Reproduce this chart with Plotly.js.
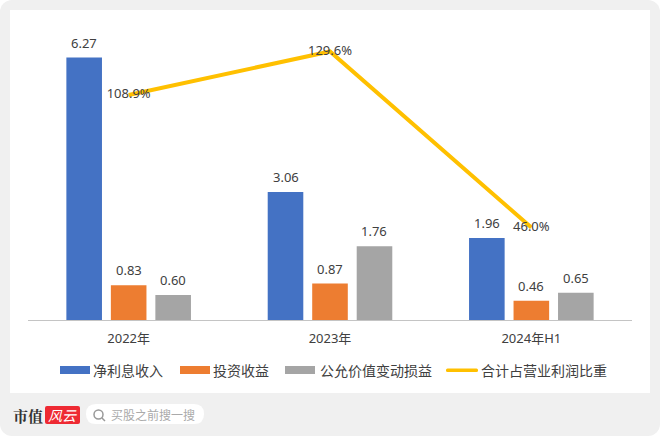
<!DOCTYPE html>
<html>
<head>
<meta charset="utf-8">
<script src="https://cdn.plot.ly/plotly-3.0.1.min.js"></script>
<style>
  html, body { margin: 0; padding: 0; background: #fff; }
  #frame { position: absolute; left: 0; top: 0; width: 660px; height: 436px; background: #f0f0f0; border-radius: 12px; }
  #chart { position: absolute; left: 0; top: 0; width: 660px; height: 436px; }
</style>
</head>
<body>
<div id="frame"></div>
<div id="chart"></div>
<script>
/* global Plotly */
const categories = ['2022年', '2023年', '2024年H1'];
const netInterest = [6.27, 3.06, 1.96];
const investIncome = [0.83, 0.87, 0.46];
const fairValue = [0.60, 1.76, 0.65];
const shareOfProfit = [108.9, 129.6, 46.0];
const seriesNames = ['净利息收入', '投资收益', '公允价值变动损益', '合计占营业利润比重'];
const seriesColors = ['#4472c4', '#ed7d31', '#a5a5a5', '#ffc000'];

const FONT = '"Noto Sans", "Noto Sans CJK SC", sans-serif';
const CJK = '"Noto Sans CJK SC", sans-serif';
const TEXT = '#404040';

// Plot box in pixels, everything decorative is placed from these
const L = 28, R = 632, T = 27, B = 320;
const px = x => (x - L) / (R - L);
const py = y => (B - y) / (B - T);

function bar(name, vals, color) {
  return { type: 'bar', name, x: categories, y: vals, marker: { color }, hoverinfo: 'skip' };
}

// Bar labels sit higher than textposition outside would put them
function barLabels(vals, offset) {
  return vals.map((v, i) => ({
    x: i + offset, y: v, xref: 'x', yref: 'y', text: v.toFixed(2), showarrow: false,
    yshift: 15, font: { family: FONT, size: 13, color: TEXT }
  }));
}

function rect(x0, y0, x1, y1, fill, r) {
  if (!r) {
    return { type: 'rect', xref: 'paper', yref: 'paper', x0: px(x0), x1: px(x1), y0: py(y0), y1: py(y1),
      fillcolor: fill, line: { width: 0 }, layer: 'below' };
  }
  // rounded rectangle, written in pixel space then converted
  const p = (x, y) => `${px(x)},${py(y)}`;
  const c = (cx, cy, x, y) => `Q${p(cx, cy)} ${p(x, y)}`;
  const path = `M${p(x0 + r, y0)}L${p(x1 - r, y0)}${c(x1, y0, x1, y0 + r)}L${p(x1, y1 - r)}${c(x1, y1, x1 - r, y1)}` +
    `L${p(x0 + r, y1)}${c(x0, y1, x0, y1 - r)}L${p(x0, y0 + r)}${c(x0, y0, x0 + r, y0)}Z`;
  return { type: 'path', xref: 'paper', yref: 'paper', path, fillcolor: fill, line: { width: 0 }, layer: 'below' };
}

function label(x, y, text, size, color, family) {
  return { xref: 'paper', yref: 'paper', x: px(x), y: py(y), text, showarrow: false,
    xanchor: 'left', yanchor: 'middle', align: 'left', borderpad: 0, borderwidth: 0,
    font: { family: family || CJK, size, color } };
}

const data = [
  bar(seriesNames[0], netInterest, seriesColors[0]),
  bar(seriesNames[1], investIncome, seriesColors[1]),
  bar(seriesNames[2], fairValue, seriesColors[2]),
  {
    type: 'scatter', mode: 'lines+text', name: seriesNames[3], x: categories, y: shareOfProfit, yaxis: 'y2',
    line: { color: seriesColors[3], width: 4 },
    text: shareOfProfit.map(v => v.toFixed(1) + '%'), textposition: 'middle center',
    textfont: { family: FONT, size: 13, color: TEXT }, cliponaxis: false, hoverinfo: 'skip'
  }
];

// Hand placed legend: wide swatches are not available in the native one
const legendX = [60, 180, 285, 446];
const legendW = [30, 30, 30, 32];
const legendShapes = legendX.map((x, i) => i < 3
  ? rect(x, 366, x + legendW[i], 374, seriesColors[i])
  : rect(x, 368.5, x + legendW[i], 372, seriesColors[i], 1.5));
const legendLabels = seriesNames.map((n, i) =>
  label(legendX[i] + legendW[i] + (i === 2 ? 5 : 3), 370, n, 14, '#404040'));

const layout = {
  width: 660, height: 436, showlegend: false,
  paper_bgcolor: 'rgba(0,0,0,0)', plot_bgcolor: 'rgba(0,0,0,0)',
  margin: { l: L, r: 660 - R, t: T, b: 436 - B, pad: 0 },
  barmode: 'group', bargap: 0.337, bargroupgap: 0.2,
  xaxis: {
    type: 'category', range: [-0.5, 2.5], showgrid: false, zeroline: false, ticks: '',
    showline: true, linecolor: '#c4c4c4', linewidth: 1, ticklabelstandoff: 6,
    tickfont: { family: FONT, size: 13, color: TEXT }
  },
  yaxis: { range: [0, 7], visible: false, fixedrange: true },
  yaxis2: { range: [2.1, 141.2], overlaying: 'y', side: 'right', visible: false, fixedrange: true },
  shapes: [
    rect(10, 10, 650, 393, '#ffffff'),
    ...legendShapes,
    // watermark: red logo tile, search pill, magnifier
    rect(45, 406, 80, 424, '#ee2a33', 2),
    rect(86, 404, 204, 424, '#ffffff', 10),
    { type: 'circle', xref: 'paper', yref: 'paper', x0: px(94), x1: px(103), y0: py(410), y1: py(419),
      line: { color: '#999999', width: 1.5 }, fillcolor: 'rgba(0,0,0,0)' },
    { type: 'line', xref: 'paper', yref: 'paper', x0: px(102), x1: px(105), y0: py(418), y1: py(421),
      line: { color: '#999999', width: 1.5 } }
  ],
  annotations: [
    ...barLabels(netInterest, -0.221),
    ...barLabels(investIncome, 0),
    ...barLabels(fairValue, 0.221),
    ...legendLabels,
    label(13, 415, '<b>市值</b>', 15, '#333333', '"Noto Serif CJK SC", "Noto Sans CJK SC", serif'),
    label(48, 415, '<i>风云</i>', 14, '#ffffff'),
    label(111, 414.5, '买股之前搜一搜', 12, '#aaaaaa')
  ]
};

Plotly.newPlot('chart', data, layout, { displayModeBar: false, staticPlot: true });
</script>
</body>
</html>
